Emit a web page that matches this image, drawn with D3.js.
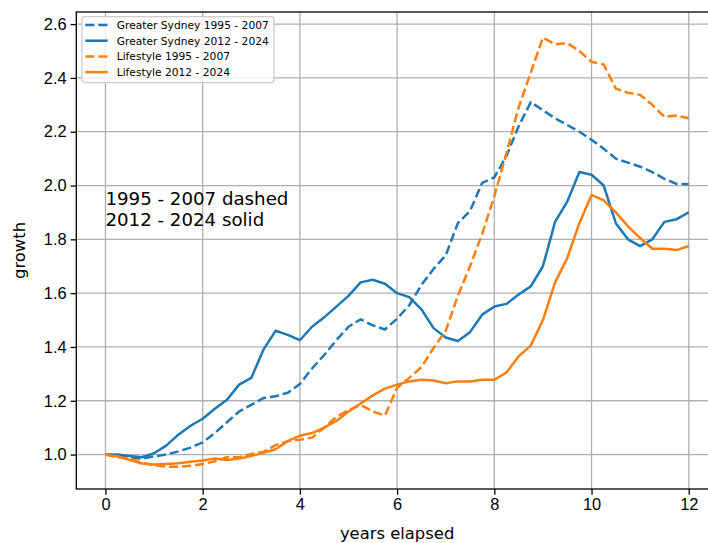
<!DOCTYPE html>
<html>
<head>
<meta charset="utf-8">
<script src="https://cdn.jsdelivr.net/npm/d3@7"></script>
<style>
  body { margin: 0; background: #fff; }
  svg { font-family: "DejaVu Sans", sans-serif; }
</style>
</head>
<body>
<svg id="chart" width="708" height="543"></svg>
<script>
// years elapsed, quarterly
const years = d3.range(0, 12.001, 0.25);

const sydneyEarly = [1.000, 0.995, 0.990, 0.985, 0.993, 1.000, 1.012, 1.026, 1.045, 1.080, 1.120, 1.160, 1.185,
  1.210, 1.217, 1.230, 1.262, 1.320, 1.370, 1.425, 1.475, 1.503, 1.480, 1.465, 1.505, 1.555, 1.630, 1.690, 1.740,
  1.860, 1.905, 2.010, 2.030, 2.110, 2.220, 2.310, 2.280, 2.250, 2.225, 2.200, 2.170, 2.137, 2.100, 2.085, 2.070,
  2.050, 2.025, 2.006, 2.005];
const sydneyLate = [1.000, 1.000, 0.995, 0.990, 1.005, 1.033, 1.074, 1.107, 1.133, 1.170, 1.204, 1.260, 1.285,
  1.390, 1.460, 1.445, 1.425, 1.475, 1.510, 1.550, 1.590, 1.640, 1.650, 1.635, 1.600, 1.585, 1.540, 1.470, 1.435,
  1.422, 1.455, 1.520, 1.550, 1.560, 1.595, 1.625, 1.700, 1.865, 1.940, 2.050, 2.040, 2.000, 1.860, 1.800, 1.775,
  1.800, 1.865, 1.875, 1.900];
const lifestyleEarly = [1.000, 0.990, 0.985, 0.970, 0.960, 0.955, 0.955, 0.958, 0.965, 0.975, 0.990, 0.990, 1.002,
  1.010, 1.035, 1.050, 1.055, 1.063, 1.100, 1.140, 1.165, 1.185, 1.160, 1.145, 1.248, 1.285, 1.325, 1.396, 1.460,
  1.590, 1.700, 1.820, 1.960, 2.120, 2.290, 2.420, 2.550, 2.525, 2.530, 2.500, 2.460, 2.450, 2.360, 2.345, 2.337,
  2.300, 2.255, 2.260, 2.250];
const lifestyleLate = [1.000, 0.993, 0.980, 0.967, 0.963, 0.965, 0.968, 0.973, 0.978, 0.985, 0.980, 0.985, 0.995,
  1.007, 1.020, 1.050, 1.070, 1.080, 1.100, 1.125, 1.160, 1.190, 1.220, 1.245, 1.260, 1.272, 1.278, 1.275, 1.265,
  1.272, 1.272, 1.278, 1.278, 1.305, 1.365, 1.405, 1.500, 1.640, 1.730, 1.860, 1.965, 1.945, 1.900, 1.848, 1.805,
  1.765, 1.765, 1.760, 1.775];

const seriesNames = ["Greater Sydney 1995 - 2007", "Greater Sydney 2012 - 2024",
  "Lifestyle 1995 - 2007", "Lifestyle 2012 - 2024"];
const xTicks = [0, 2, 4, 6, 8, 10, 12];
const yTicks = [1.0, 1.2, 1.4, 1.6, 1.8, 2.0, 2.2, 2.4, 2.6];

const series = [
  { name: seriesNames[0], values: sydneyEarly, color: "#1f77b4", dashed: true },
  { name: seriesNames[1], values: sydneyLate, color: "#1f77b4", dashed: false },
  { name: seriesNames[2], values: lifestyleEarly, color: "#ff7f0e", dashed: true },
  { name: seriesNames[3], values: lifestyleLate, color: "#ff7f0e", dashed: false }
];

const margin = { top: 12, left: 76.3 };
const width = 641.6, height = 477;
const svg = d3.select("#chart");
const g = svg.append("g").attr("transform", `translate(${margin.left},${margin.top})`);

const x = d3.scaleLinear().domain([-0.6, 12.6]).range([0, width]);
const y = d3.scaleLinear().domain([0.872, 2.645]).range([height, 0]);

svg.append("defs").append("clipPath").attr("id", "plot")
  .append("rect").attr("width", width).attr("height", height);

// grid
const grid = g.append("g").attr("stroke", "#b0b0b0").attr("stroke-width", 1.3);
grid.selectAll(".gx").data(xTicks).join("line")
  .attr("x1", d => x(d)).attr("x2", d => x(d)).attr("y1", 0).attr("y2", height);
grid.selectAll(".gy").data(yTicks).join("line")
  .attr("y1", d => y(d)).attr("y2", d => y(d)).attr("x1", 0).attr("x2", width);

const line = d3.line().x((d, i) => x(years[i])).y(d => y(d));

g.append("g").attr("clip-path", "url(#plot)")
  .selectAll("path").data(series).join("path")
  .attr("fill", "none")
  .attr("stroke", d => d.color)
  .attr("stroke-width", 2.5)
  .attr("stroke-linejoin", "round")
  .attr("stroke-dasharray", d => d.dashed ? "9.1,3.9" : null)
  .attr("d", d => line(d.values));

// axes
const xAxis = g.append("g").attr("transform", `translate(0,${height})`)
  .call(d3.axisBottom(x).tickValues(xTicks).tickFormat(d3.format("d")).tickSize(5.7).tickPadding(4));
const yAxis = g.append("g")
  .call(d3.axisLeft(y).tickValues(yTicks).tickFormat(d3.format(".1f")).tickSize(5.7).tickPadding(4));
[xAxis, yAxis].forEach(a => {
  a.select(".domain").remove();
  a.selectAll(".tick line").attr("stroke", "#000").attr("stroke-width", 1.3);
  a.selectAll(".tick text").attr("fill", "#000").style("font-size", "16.4px");
});

// frame
g.append("rect").attr("width", width).attr("height", height)
  .attr("fill", "none").attr("stroke", "#000").attr("stroke-width", 1.3);

svg.append("text").attr("x", margin.left + width / 2).attr("y", 539)
  .attr("text-anchor", "middle").style("font-size", "16.4px").text("years elapsed");
svg.append("text").attr("transform", `translate(25,${margin.top + height / 2}) rotate(-90)`)
  .attr("text-anchor", "middle").style("font-size", "16.4px").text("growth");

// annotation
const note = g.append("text").style("font-size", "18.2px").attr("x", x(0));
note.append("tspan").attr("x", x(0)).attr("y", y(1.85) - 21).text("1995 - 2007 dashed");
note.append("tspan").attr("x", x(0)).attr("y", y(1.85)).text("2012 - 2024 solid");

// legend
const legend = svg.append("g").attr("transform", "translate(82,16.7)");
legend.append("rect").attr("width", 192).attr("height", 66).attr("rx", 3)
  .attr("fill", "#fff").attr("fill-opacity", 0.8)
  .attr("stroke", "#cccccc").attr("stroke-width", 1.3);
const item = legend.selectAll(".item").data(series).join("g")
  .attr("transform", (d, i) => `translate(0,${8.3 + i * 15.7})`);
item.append("line").attr("x1", 3.3).attr("x2", 25.7)
  .attr("stroke", d => d.color).attr("stroke-width", 2.5)
  .attr("stroke-dasharray", d => d.dashed ? "9.1,3.9" : null);
item.append("text").attr("x", 34.7).attr("dy", "0.36em")
  .style("font-size", "10.7px").text(d => d.name);
</script>
</body>
</html>
